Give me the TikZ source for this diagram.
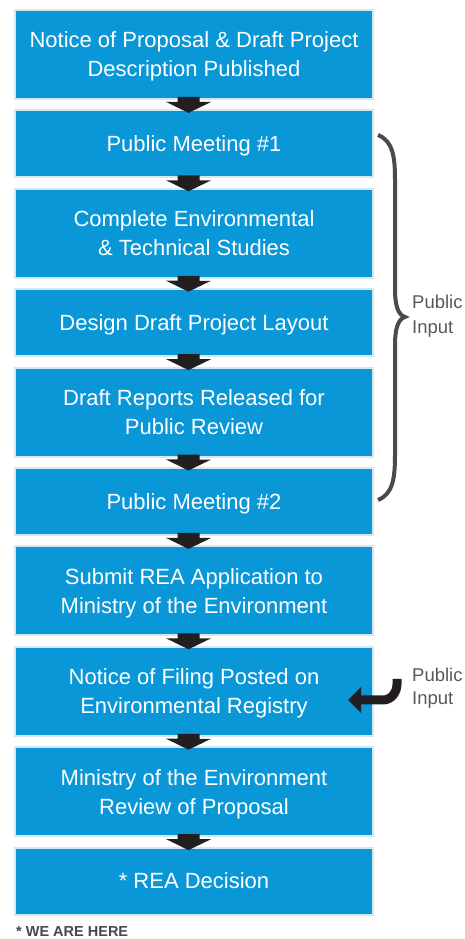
\documentclass[tikz,border=0pt]{standalone}
\usepackage{fontspec}
\setmainfont{Liberation Sans}
\usetikzlibrary{positioning,arrows.meta}
\definecolor{stepblue}{RGB}{9,151,216}
\definecolor{steprim}{RGB}{214,231,244}
\definecolor{arrowdark}{RGB}{35,31,32}
\definecolor{bracegray}{RGB}{75,75,77}
\definecolor{notegray}{RGB}{88,89,91}
\definecolor{heregray}{RGB}{72,72,74}
\begin{document}
\begin{tikzpicture}
		[x=1pt,y=1pt,node distance=11.4pt,
		stepbox/.style={rectangle,draw=steprim,line width=2pt,fill=stepblue,text=white,align=center,minimum width=358pt,outer sep=0pt,font=\fontsize{22}{29}\selectfont,text depth=5pt},
		tall/.style={minimum height=89pt,text height=49.8pt},
		short/.style={minimum height=67pt,text height=20.8pt},
		downarrow/.style={fill=arrowdark},
		sidenote/.style={anchor=west,align=left,inner sep=0pt,text=notegray,font=\fontsize{18.5}{25}\selectfont}]
		\useasboundingbox (0,0) rectangle (465,939);
		\node[stepbox,tall,name=1] at (194,884.5) {Notice of Proposal \& Draft Project\\Description Published};
		\node[stepbox,short,name=2,below=of 1] {Public Meeting \#1};
		\node[stepbox,tall,name=3,below=of 2] {Complete Environmental\\\& Technical Studies};
		\node[stepbox,short,name=4,below=of 3] {Design Draft Project Layout};
		\node[stepbox,tall,name=5,below=of 4] {Draft Reports Released for\\Public Review};
		\node[stepbox,short,name=6,below=of 5] {Public Meeting \#2};
		\node[stepbox,tall,name=7,below=of 6] {Submit REA Application to\\Ministry of the Environment};
		\node[stepbox,tall,name=8,below=of 7] {Notice of Filing Posted on\\Environmental Registry};
		\node[stepbox,tall,name=9,below=of 8] {Ministry of the Environment\\Review of Proposal};
		\node[stepbox,short,name=10,below=of 9] {* REA Decision};
		\foreach \i [count=\j from 2] in {1,...,9}
		{
			\fill[downarrow] ([xshift=-16.5pt,yshift=2pt]\i.south) -- ++(22,0) -- ++(0,-5) -- ++(11.5,0)
				-- ([xshift=-5.5pt,yshift=-2.5pt]\j.north) -- ++(-22.5,11) -- ++(11.5,0) -- cycle;
		}
		\draw[bracegray,line width=4pt] (378,804) .. controls (393,798) and (395,782) .. (395,759) -- (395,649)
			.. controls (395,634) and (398,624) .. (405,622) .. controls (398,620) and (395,610) .. (395,594)
			-- (395,484) .. controls (395,461) and (393,445) .. (378,439);
		\node[sidenote,name=bracein] at (412,623) {Public\\Input};
		\node[sidenote,name=filein,font=\fontsize{18.5}{23}\selectfont] at (412,251) {Public\\Input};
		\coordinate (bend) at ([xshift=-15pt,yshift=9pt]filein.west);
		\draw[arrowdark,line width=9pt,-{Triangle[length=13pt,width=25pt]}] (bend) -- ++(0,-5)
			to[out=-90,in=0] ++(-14,-16) -- ([xshift=-25pt,yshift=-8.7pt]8.east);
		\node[anchor=base west,inner sep=0pt,text=heregray,font=\fontsize{14.5}{16}\selectfont\bfseries,name=note] at (16,2) {* WE ARE HERE};
	\end{tikzpicture}
\end{document}
